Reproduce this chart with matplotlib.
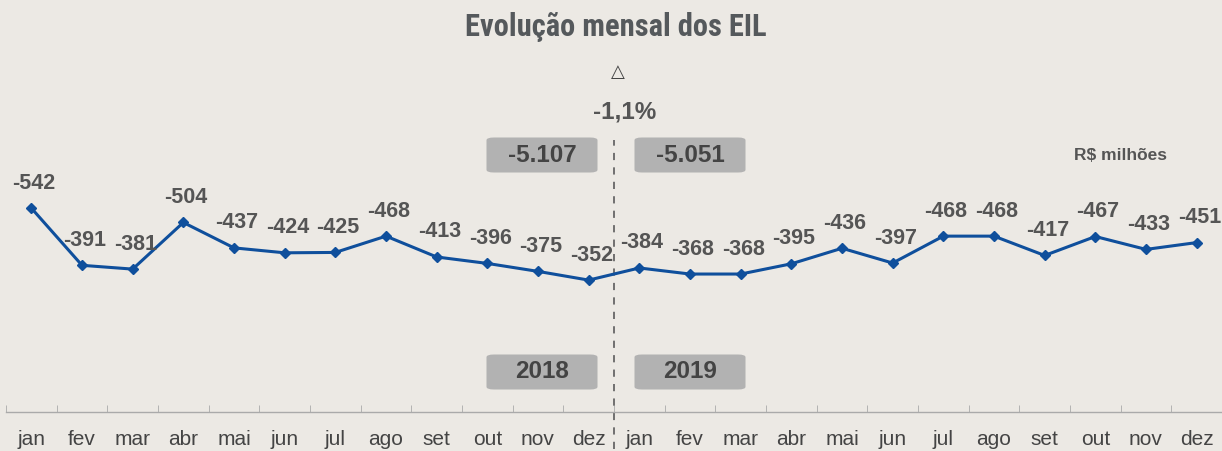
import matplotlib
matplotlib.use("Agg")
import matplotlib.pyplot as plt
from matplotlib.patches import FancyBboxPatch
import numpy as np

months = ['jan', 'fev', 'mar', 'abr', 'mai', 'jun', 'jul', 'ago', 'set', 'out', 'nov', 'dez']
values_2018 = [-542, -391, -381, -504, -437, -424, -425, -468, -413, -396, -375, -352]
values_2019 = [-384, -368, -368, -395, -436, -397, -468, -468, -417, -467, -433, -451]
years = ['2018', '2019']
totals = ['-5.107', '-5.051']
variation = '-1,1%'
title = 'Evolução mensal dos EIL'
unit = 'R$ milhões'

W, H = 1222, 451
BG = '#ece9e4'
LINE = '#0f4f9c'
GRAY = '#555555'

plt.rcParams['font.family'] = ['Liberation Sans', 'DejaVu Sans']

fig = plt.figure(figsize=(W / 100, H / 100), dpi=100, facecolor=BG)


def fx(x):
    return x / W


def fy(y):
    return 1 - y / H


ax = fig.add_axes([fx(6), 39 / H, 1 - fx(6), 412 / H])
ax.set_facecolor('none')

values = values_2018 + values_2019
labels = months + months
x = np.arange(len(values))

ax.plot(x, values, color=LINE, lw=2.2, marker='D', ms=5.5, mfc=LINE, mec=LINE, zorder=3)
for xi, v in zip(x, values):
    ax.annotate(f'{v}', (xi, v), xytext=(2, 18), textcoords='offset points',
                ha='center', va='center', fontsize=15.5, fontweight='bold', color=GRAY)

ax.set_xlim(-0.5, len(values) - 0.6)
ax.set_ylim(-4, -1091)

for s in ['top', 'left', 'right']:
    ax.spines[s].set_visible(False)
ax.spines['bottom'].set_color('#aaaaaa')
ax.spines['bottom'].set_linewidth(1.0)
ax.set_yticks([])
ax.set_xticks(x)
ax.set_xticklabels(labels, fontsize=15, color='#444444')
ax.set_xticks(np.arange(-0.5, len(values), 1.0), minor=True)
ax.tick_params(axis='x', which='major', length=0, pad=13)
ax.tick_params(axis='x', which='minor', length=5, direction='in', color='#aaaaaa')

# divider
ax.axvline(len(values_2018) - 0.5, ymin=-0.09, ymax=0.66, color='#666666',
           lw=1.3, ls=(0, (4, 4)), clip_on=False, zorder=2)

# title and annotations
fig.text(fx(616), fy(27), title, ha='center', va='center', fontsize=22,
         fontweight='bold', color='#55595c',
         family=['Liberation Sans Narrow', 'Roboto Condensed', 'Roboto', 'DejaVu Sans'])
fig.text(fx(618), fy(72), '△', ha='center', va='center', fontsize=13, color='#444444',
         family=['DejaVu Sans'])
fig.text(fx(625), fy(112), variation, ha='center', va='center', fontsize=17.5,
         fontweight='bold', color=GRAY)
fig.text(fx(1121), fy(156), unit, ha='center', va='center', fontsize=12.5,
         fontweight='bold', color=GRAY)


def box(cx, cy, text):
    w, h = 111, 35
    p = FancyBboxPatch((fx(cx - w / 2), fy(cy + h / 2)), fx(w), h / H,
                       boxstyle='round,pad=0,rounding_size=0.006',
                       transform=fig.transFigure, fc='#b2b2b2', ec='none', zorder=1)
    fig.patches.append(p)
    fig.text(fx(cx), fy(cy), text, ha='center', va='center', fontsize=17.5,
             fontweight='bold', color='#444444', zorder=2)


box(542, 155, totals[0])
box(690, 155, totals[1])
box(542, 372, years[0])
box(690, 372, years[1])

fig.savefig('out.png', dpi=100, facecolor=BG)
